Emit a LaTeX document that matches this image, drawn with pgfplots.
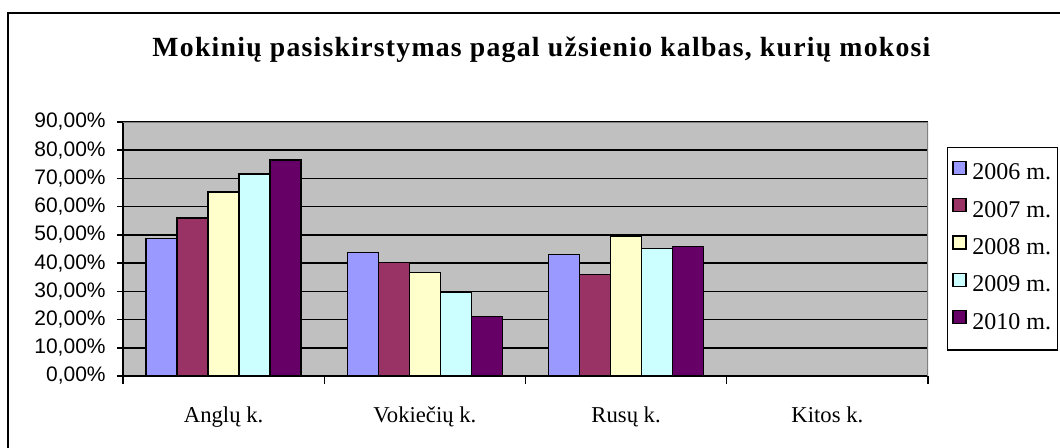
\documentclass[border=0pt]{standalone}
\usepackage{fontspec}
\setmainfont{Liberation Serif}
\newfontfamily\arialf{Liberation Sans}
\newfontfamily\titlef[LetterSpace=4.5]{Liberation Serif}
\usepackage{pgfplots}
\pgfplotsset{compat=1.18}
\definecolor{cA}{HTML}{9999FF}
\definecolor{cB}{HTML}{993366}
\definecolor{cC}{HTML}{FFFFCC}
\definecolor{cD}{HTML}{CCFFFF}
\definecolor{cE}{HTML}{660066}
\definecolor{bgray}{HTML}{C0C0C0}
\definecolor{bord}{HTML}{808080}
\begin{document}
\begin{tikzpicture}
\useasboundingbox (0,0) rectangle (795pt,336pt);
\clip (0,0) rectangle (795pt,336pt);
\draw[line width=1.5pt] (6pt,-20pt) rectangle (830pt,326.25pt);
\node[anchor=base, font=\titlef\bfseries\fontsize{20.8}{24}\selectfont] at (406.1pt,293.25pt) {Mokinių pasiskirstymas pagal užsienio kalbas, kurių mokosi};
\begin{axis}[
  at={(92.25pt,54pt)}, anchor=south west,
  scale only axis, width=603.75pt, height=190.5pt,
  ymin=0, ymax=90, xmin=-0.5, xmax=3.5,
  ytick={0,10,...,90},
  yticklabels={{0,00\%},{10,00\%},{20,00\%},{30,00\%},{40,00\%},{50,00\%},{60,00\%},{70,00\%},{80,00\%},{90,00\%}},
  xtick={0,1,2,3},
  xticklabels={Anglų k.,Vokiečių k.,Rusų k.,Kitos k.},
  minor xtick={-0.5,0.5,1.5,2.5,3.5},
  major tick length=4.5pt, minor tick length=6pt, tick align=outside,
  major x tick style={draw=none},
  tick style={black, line width=1.1pt},
  axis x line*=bottom, axis y line*=left,
  axis line style={black, line width=1.1pt},
  axis background/.style={fill=bgray},
  ymajorgrids, grid style={black, line width=1.1pt},
  ybar=0pt, bar width=23.25pt,
  yticklabel style={font=\arialf\fontsize{15.75}{18}\selectfont, xshift=-5pt},
  xticklabel style={font=\fontsize{17}{20}\selectfont, yshift=-15pt},
  legend style={at={(1.0236,0.9028)}, anchor=north west, draw=black, line width=1pt, fill=white,
    font=\fontsize{18}{20}\selectfont, row sep=8.35pt, inner xsep=3.5pt, inner ysep=10pt,
    nodes={inner sep=1.5pt, text height=12pt, text depth=4pt}},
  legend cell align=left,
  legend image code/.code={\draw[#1, line width=0.9pt] (0pt,0pt) rectangle (9.75pt,9.75pt); \path (12.5pt,0pt);},
]
\addplot[fill=cA, draw=black, line width=1.1pt] coordinates {(0,48.8) (1,43.8) (2,43.1) (3,0)};
\addplot[fill=cB, draw=black, line width=1.1pt] coordinates {(0,56.0) (1,40.3) (2,36.0) (3,0)};
\addplot[fill=cC, draw=black, line width=1.1pt] coordinates {(0,65.2) (1,36.7) (2,49.5) (3,0)};
\addplot[fill=cD, draw=black, line width=1.1pt] coordinates {(0,71.5) (1,29.6) (2,45.2) (3,0)};
\addplot[fill=cE, draw=black, line width=1.1pt] coordinates {(0,76.5) (1,21.1) (2,45.9) (3,0)};
\legend{2006 m.,2007 m.,2008 m.,2009 m.,2010 m.}
\draw[bord, line width=1.1pt] (rel axis cs:0,1) -- (rel axis cs:1,1) -- (rel axis cs:1,0);
\end{axis}
\end{tikzpicture}
\end{document}
